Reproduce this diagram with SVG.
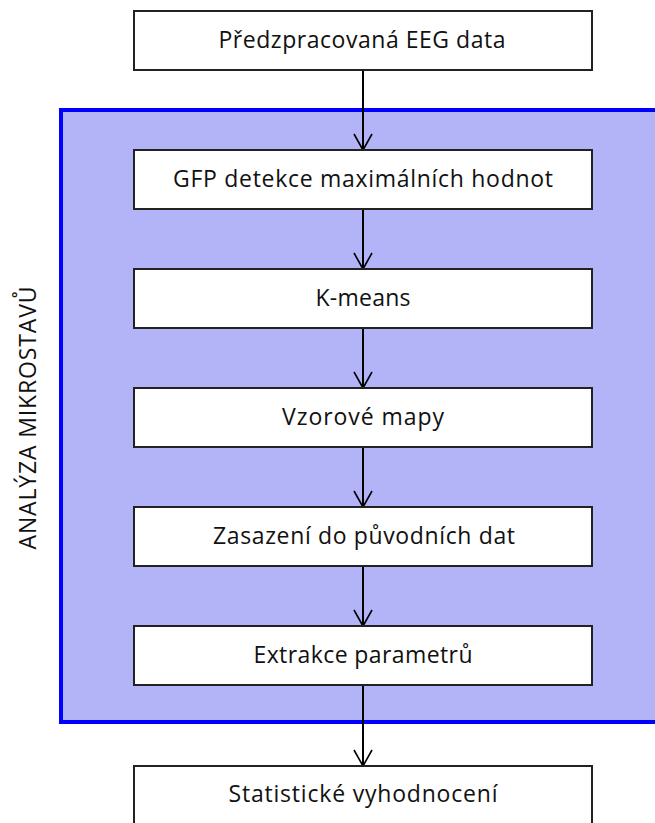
<svg xmlns="http://www.w3.org/2000/svg" width="655" height="823" viewBox="0 0 655 823">
<defs>
<style>
.box{fill:#ffffff;stroke:#222222;stroke-width:2}
.lbl{font-family:"Open Sans","Liberation Sans",sans-serif;font-size:23px;fill:#111111;text-anchor:middle}
.conn{stroke:#000000;stroke-width:2;fill:none}
.head{stroke:#000000;stroke-width:1.6;fill:none}
</style>
<marker id="arr" markerWidth="20" markerHeight="20" refX="17" refY="10" orient="auto" markerUnits="userSpaceOnUse" viewBox="0 0 20 20">
<path d="M1,1 L17,10 L1,19" class="head"/>
</marker>
</defs>
<g id="container">
<rect x="61" y="110" width="610" height="612" fill="#b3b3f8" stroke="#0000ff" stroke-width="4"/>
<text transform="translate(36,418) rotate(-90)" class="lbl" font-size="25" textLength="263">ANALÝZA MIKROSTAVŮ</text>
</g>
<g id="connectors">
<line x1="363" y1="70" x2="363" y2="150" class="conn" marker-end="url(#arr)"/>
<line x1="363" y1="209" x2="363" y2="269" class="conn" marker-end="url(#arr)"/>
<line x1="363" y1="328" x2="363" y2="388" class="conn" marker-end="url(#arr)"/>
<line x1="363" y1="447" x2="363" y2="507" class="conn" marker-end="url(#arr)"/>
<line x1="363" y1="566" x2="363" y2="626" class="conn" marker-end="url(#arr)"/>
<line x1="363" y1="685" x2="363" y2="766" class="conn" marker-end="url(#arr)"/>
</g>
<g id="n1"><rect x="134" y="11" width="458" height="59" class="box"/><text x="362" y="48" class="lbl" textLength="287">Předzpracovaná EEG data</text></g>
<g id="n2"><rect x="134" y="150" width="458" height="59" class="box"/><text x="363" y="187" class="lbl" textLength="380">GFP detekce maximálních hodnot</text></g>
<g id="n3"><rect x="134" y="269" width="458" height="59" class="box"/><text x="363" y="306" class="lbl" textLength="95">K-means</text></g>
<g id="n4"><rect x="134" y="388" width="458" height="59" class="box"/><text x="363" y="425" class="lbl" textLength="162">Vzorové mapy</text></g>
<g id="n5"><rect x="134" y="507" width="458" height="59" class="box"/><text x="364" y="544" class="lbl" textLength="302">Zasazení do původních dat</text></g>
<g id="n6"><rect x="134" y="626" width="458" height="59" class="box"/><text x="363" y="663" class="lbl" textLength="219">Extrakce parametrů</text></g>
<g id="n7"><rect x="134" y="766" width="458" height="70" class="box"/><text x="363" y="802" class="lbl" textLength="269">Statistické vyhodnocení</text></g>
</svg>
